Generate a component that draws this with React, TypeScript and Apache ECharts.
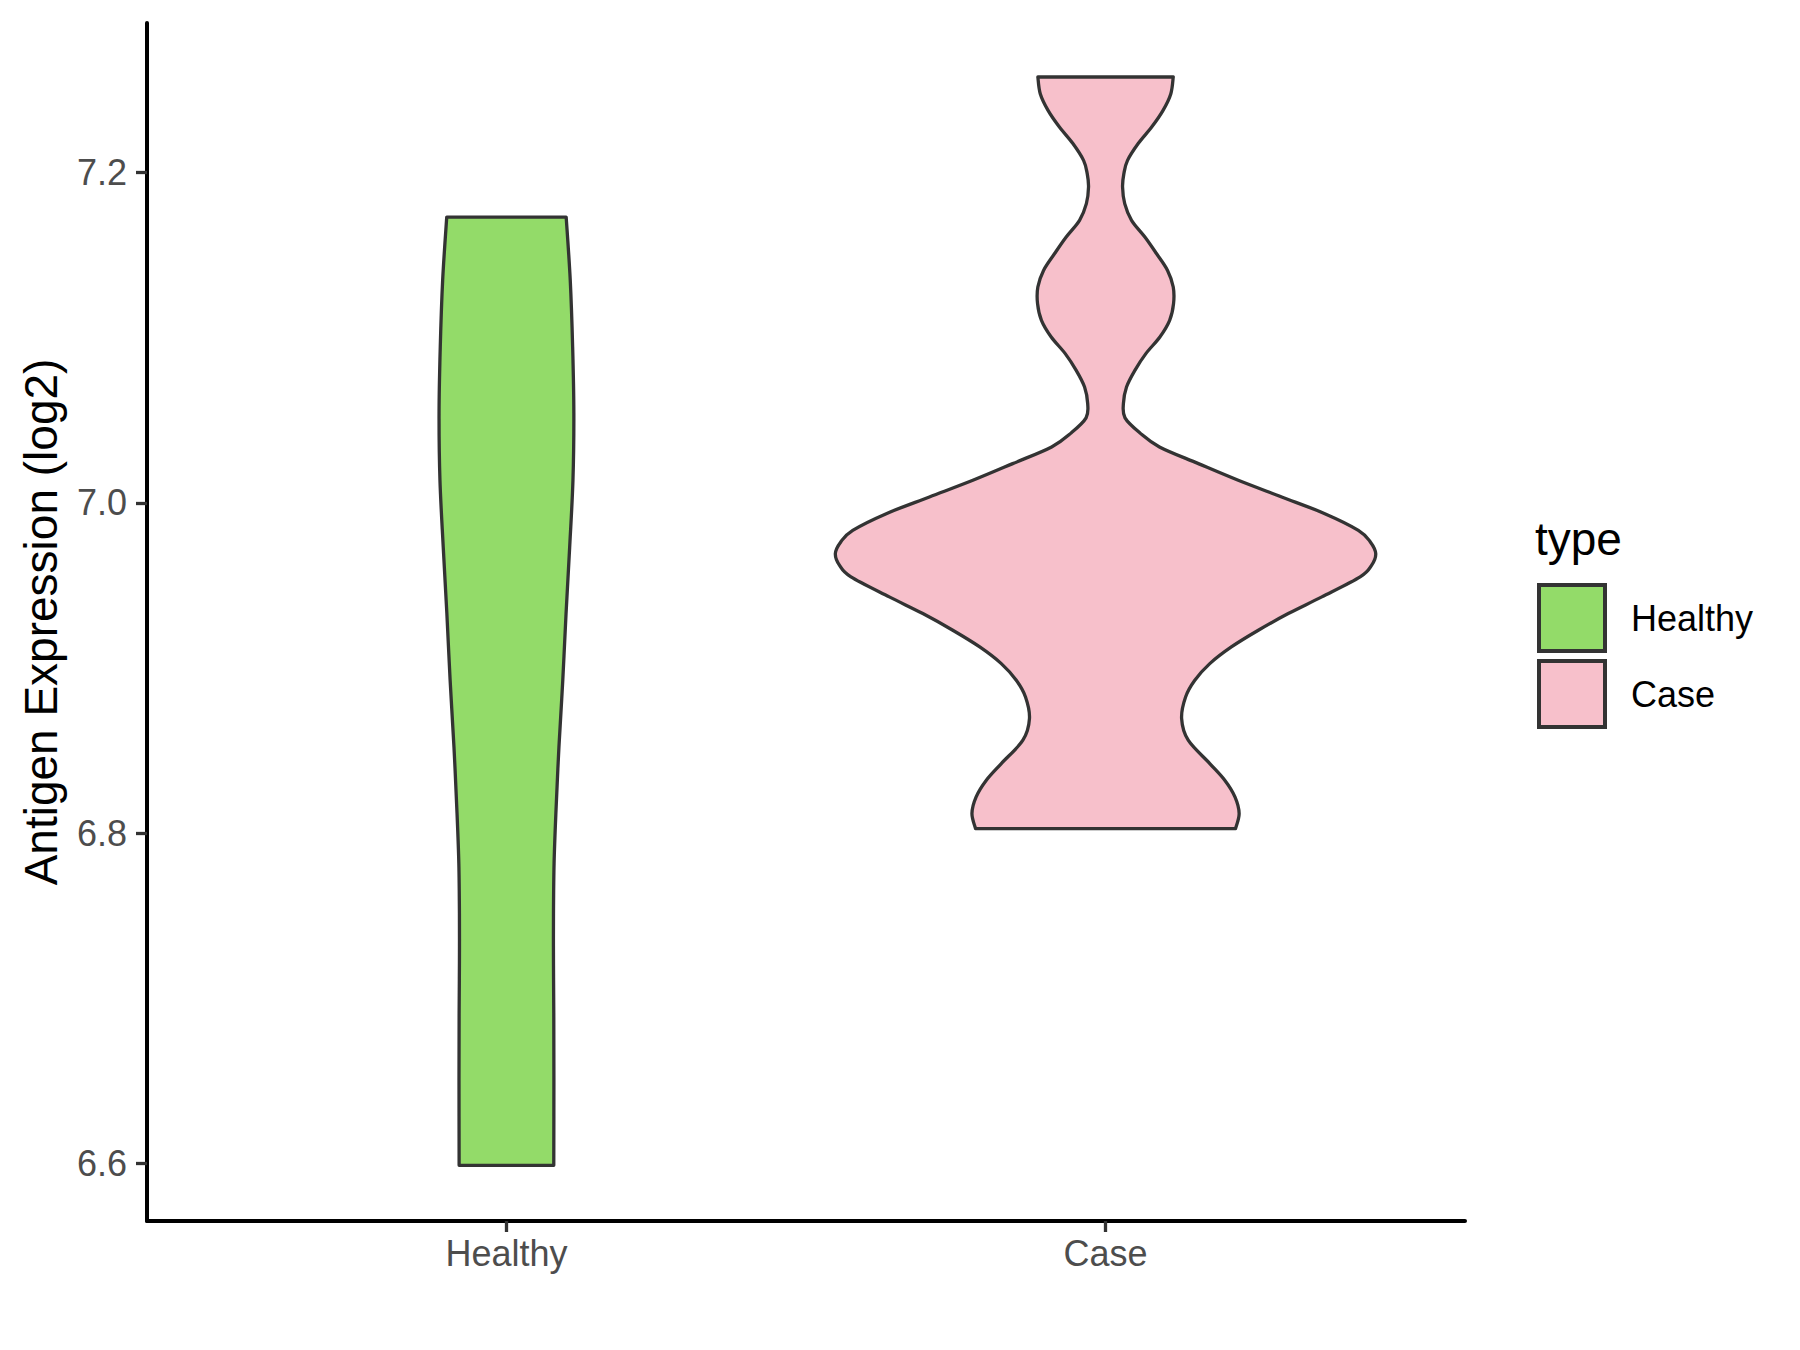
import React, { useEffect, useRef } from "react";
import * as echarts from "echarts";

// ---- data ----
const categories = ["Healthy", "Case"];
const fillColors = ["#93DB69", "#F7C0CB"];
const yTicks = [6.6, 6.8, 7.0, 7.2];
const yMin = 6.5652;
const yMax = 7.2906;

// violin profiles: value (y) and half-width (in x-axis units), top to bottom
const healthyY = [7.1731, 7.1348, 7.0942, 7.0543, 7.0137, 6.9731, 6.9332, 6.8926, 6.8521, 6.8121, 6.7819, 6.7516, 6.7213, 6.691, 6.6504, 6.5989];
const healthyW = [0.0997, 0.1065, 0.1105, 0.1125, 0.111, 0.1055, 0.0995, 0.094, 0.0876, 0.0825, 0.0795, 0.0785, 0.0785, 0.079, 0.0792, 0.079];

const caseY = [7.2579, 7.2478, 7.2377, 7.2276, 7.2176, 7.2074, 7.1994, 7.1913, 7.1812, 7.1711, 7.161, 7.151, 7.1408, 7.1307, 7.1207, 7.1106, 7.1005, 7.0904, 7.0803, 7.0702, 7.0601, 7.0515, 7.0425, 7.0339, 7.0238, 7.0137, 7.0036, 6.9935, 6.9834, 6.9764, 6.9693, 6.9622, 6.9552, 6.9431, 6.933, 6.9229, 6.9128, 6.9027, 6.8926, 6.8825, 6.8694, 6.8563, 6.8422, 6.8321, 6.822, 6.8119, 6.8028];
const caseW = [0.113, 0.109, 0.096, 0.077, 0.0545, 0.0367, 0.0306, 0.0284, 0.032, 0.0434, 0.0657, 0.085, 0.1035, 0.113, 0.1135, 0.107, 0.0907, 0.0673, 0.049, 0.035, 0.0298, 0.0325, 0.057, 0.09, 0.155, 0.2215, 0.294, 0.366, 0.422, 0.442, 0.451, 0.444, 0.425, 0.361, 0.305, 0.255, 0.21, 0.174, 0.149, 0.1336, 0.127, 0.138, 0.174, 0.199, 0.216, 0.223, 0.217];

const FONT = "'Liberation Sans', Arial, Helvetica, sans-serif";

function curve(p: number[][]): string {
  let s = "";
  for (let k = 0; k < p.length - 1; k++) {
    const p0 = p[k - 1] || p[k];
    const p1 = p[k];
    const p2 = p[k + 1];
    const p3 = p[k + 2] || p[k + 1];
    const c1x = p1[0] + (p2[0] - p0[0]) / 6;
    const c1y = p1[1] + (p2[1] - p0[1]) / 6;
    const c2x = p2[0] - (p3[0] - p1[0]) / 6;
    const c2y = p2[1] - (p3[1] - p1[1]) / 6;
    s += ` C${c1x},${c1y} ${c2x},${c2y} ${p2[0]},${p2[1]}`;
  }
  return s;
}

export default function App() {
  const ref = useRef<HTMLDivElement>(null);
  useEffect(() => {
    const chart = echarts.init(ref.current as HTMLDivElement, null, { renderer: "svg" });
    const profiles = [
      { ys: healthyY, ws: healthyW },
      { ys: caseY, ws: caseW },
    ];
    const series = categories.map((name, i) => ({
      type: "custom",
      name,
      data: [[i + 1, Math.min(...profiles[i].ys), Math.max(...profiles[i].ys)]],
      encode: { x: 0, y: [1, 2] },
      itemStyle: { color: fillColors[i], borderColor: "#333333", borderWidth: 4 },
      renderItem: (params: any, api: any) => {
        const c = api.value(0);
        const { ys, ws } = profiles[i];
        const right: number[][] = [];
        for (let k = ys.length - 1; k >= 0; k--) right.push(api.coord([c + ws[k], ys[k]]));
        const left: number[][] = [];
        for (let k = 0; k < ys.length; k++) left.push(api.coord([c - ws[k], ys[k]]));
        const d =
          `M${right[0][0]},${right[0][1]}` +
          curve(right) +
          ` L${left[0][0]},${left[0][1]}` +
          curve(left) +
          " Z";
        return {
          type: "path",
          shape: { pathData: d },
          style: { fill: fillColors[i], stroke: "#333333", lineWidth: 3.3, lineJoin: "round" },
        };
      },
    }));

    chart.setOption({
      animation: false,
      backgroundColor: "#FFFFFF",
      grid: { left: 147, right: 335, top: 23, bottom: 129, containLabel: false, outerBoundsMode: "none" },
      xAxis: {
        type: "value",
        min: 0.4,
        max: 2.6,
        splitLine: { show: false },
        minorTick: { show: false },
        axisLine: { show: true, onZero: false, lineStyle: { color: "#000000", width: 4 } },
        axisTick: { show: true, length: 11, lineStyle: { color: "#333333", width: 3.3 }, customValues: [1, 2] },
        axisLabel: {
          customValues: [1, 2],
          formatter: (v: number) => categories[Math.round(v) - 1] || "",
          fontSize: 36,
          color: "#4D4D4D",
          fontFamily: FONT,
          margin: 14,
        },
      },
      yAxis: {
        type: "value",
        min: yMin,
        max: yMax,
        name: "Antigen Expression (log2)",
        nameLocation: "middle",
        nameGap: 83,
        nameRotate: 90,
        nameTextStyle: { fontSize: 46, color: "#000000", fontFamily: FONT },
        splitLine: { show: false },
        axisLine: { show: true, onZero: false, lineStyle: { color: "#000000", width: 4 } },
        axisTick: { show: true, length: 11, lineStyle: { color: "#333333", width: 3.3 }, customValues: yTicks },
        axisLabel: {
          customValues: yTicks,
          formatter: (v: number) => v.toFixed(1),
          fontSize: 36,
          color: "#4D4D4D",
          fontFamily: FONT,
          margin: 20,
        },
      },
      legend: {
        data: categories,
        orient: "vertical",
        left: 1532,
        top: 578,
        itemWidth: 66,
        itemHeight: 66,
        itemGap: 6,
        icon: "rect",
        itemStyle: { borderColor: "#333333", borderWidth: 4 },
        textStyle: { fontSize: 36, color: "#000000", fontFamily: FONT, padding: [0, 0, 0, 21] },
        selectedMode: false,
      },
      graphic: [
        {
          type: "text",
          left: 1535,
          top: 516,
          style: { text: "type", font: `46px ${FONT}`, fill: "#000000" },
        },
      ],
      series,
    });
    return () => chart.dispose();
  }, []);
  return (
    <div
      ref={ref}
      style={{ position: "fixed", left: 0, top: 0, width: 1800, height: 1350, background: "#FFFFFF" }}
    />
  );
}
